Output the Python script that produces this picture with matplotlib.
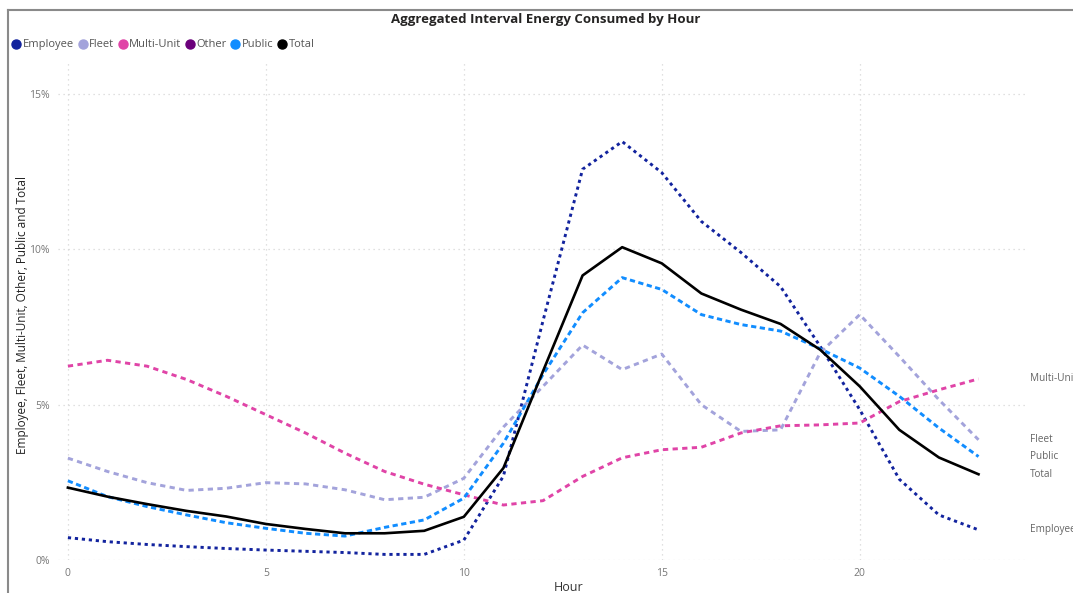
import matplotlib
matplotlib.use('Agg')
import matplotlib.pyplot as plt
from matplotlib.lines import Line2D
from matplotlib.ticker import PercentFormatter

hours = list(range(24))

employee = [0.72, 0.59, 0.50, 0.43, 0.37, 0.32, 0.28, 0.24, 0.18, 0.18, 0.64, 2.70,
            7.70, 12.58, 13.47, 12.47, 10.90, 9.90, 8.80, 6.88, 4.84, 2.60, 1.45, 0.97]
fleet = [3.28, 2.85, 2.49, 2.24, 2.31, 2.49, 2.45, 2.26, 1.94, 2.02, 2.63, 4.28,
         5.59, 6.92, 6.13, 6.63, 5.00, 4.14, 4.19, 6.67, 7.90, 6.55, 5.16, 3.87]
multi_unit = [6.24, 6.43, 6.24, 5.81, 5.27, 4.68, 4.09, 3.44, 2.85, 2.44, 2.10, 1.77,
              1.91, 2.69, 3.29, 3.55, 3.63, 4.09, 4.32, 4.35, 4.41, 5.10, 5.48, 5.83]
public = [2.55, 2.04, 1.72, 1.45, 1.20, 1.02, 0.86, 0.77, 1.05, 1.29, 1.99, 3.76,
          5.97, 7.96, 9.09, 8.71, 7.90, 7.58, 7.37, 6.80, 6.18, 5.27, 4.25, 3.33]
total = [2.33, 2.04, 1.80, 1.58, 1.40, 1.16, 1.00, 0.86, 0.86, 0.94, 1.39, 2.96,
         6.08, 9.16, 10.07, 9.55, 8.58, 8.06, 7.60, 6.77, 5.59, 4.19, 3.30, 2.76]

series = {
    'Employee': (employee, '#12239E', (1.1, 1.3)),
    'Fleet': (fleet, '#A3A3DB', (1.8, 1.5)),
    'Multi-Unit': (multi_unit, '#E044A7', (1.8, 1.5)),
    'Public': (public, '#118DFF', (1.8, 1.2)),
    'Total': (total, '#000000', None),
}
legend_names = ['Employee', 'Fleet', 'Multi-Unit', 'Other', 'Public', 'Total']
legend_colors = ['#12239E', '#A3A3DB', '#E044A7', '#6B007B', '#118DFF', '#000000']

plt.rcParams['font.family'] = ['Open Sans', 'DejaVu Sans']

fig = plt.figure(figsize=(10.73, 5.93), dpi=100)
ax = fig.add_axes([58 / 1073, 33 / 593, 970 / 1073, 497 / 593])

for name, (vals, color, dashes) in series.items():
    if dashes is None:
        ax.plot(hours, vals, color=color, lw=1.9, zorder=3)
    else:
        line, = ax.plot(hours, vals, color=color, lw=2.1, zorder=2)
        line.set_dashes(dashes)
    ax.annotate(name, (hours[-1], vals[-1]), xytext=(24.3, vals[-1]),
                textcoords='data', va='center', ha='left', fontsize=7.2,
                color='#666666', annotation_clip=False)

ax.set_xlim(-0.25, 24.25)
ax.set_ylim(0, 16)
ax.set_xticks([0, 5, 10, 15, 20])
ax.set_yticks([0, 5, 10, 15])
ax.yaxis.set_major_formatter(PercentFormatter(decimals=0))
ax.tick_params(length=0, labelsize=7.5, colors='#777777', pad=6)
ax.grid(True, color='#d6d6d6', linestyle=(0, (1, 3)), lw=0.9)
for s in ax.spines.values():
    s.set_visible(False)

ax.set_xlabel('Hour', fontsize=9, color='#333333')
ax.xaxis.set_label_coords((569 - 58) / 970, -21 / 497)
ax.set_ylabel('Employee, Fleet, Multi-Unit, Other, Public and Total', fontsize=8.5,
              color='#222222')
ax.yaxis.set_label_coords(-29 / 970, 0.493)

fig.text(546 / 1073, 1 - 20 / 593, 'Aggregated Interval Energy Consumed by Hour',
         ha='center', va='center', fontsize=9.5, fontweight='bold', color='#252423')

handles = [Line2D([], [], marker='o', linestyle='none', markersize=6.5, color=c)
           for c in legend_colors]
fig.legend(handles, legend_names, loc='upper left', bbox_to_anchor=(0.006, 1 - 35 / 593),
           ncol=6, frameon=False, fontsize=8, labelcolor='#555555',
           handletextpad=0.1, columnspacing=0.25, handlelength=1.0, borderaxespad=0)

# visual border (top and left)
fig.add_artist(Line2D([8 / 1073, 1], [1 - 10 / 593, 1 - 10 / 593], color='#8a8a8a', lw=1.5))
fig.add_artist(Line2D([8 / 1073, 8 / 1073], [0, 1 - 10 / 593], color='#8a8a8a', lw=1.5))

fig.savefig('out.png', dpi=100)
